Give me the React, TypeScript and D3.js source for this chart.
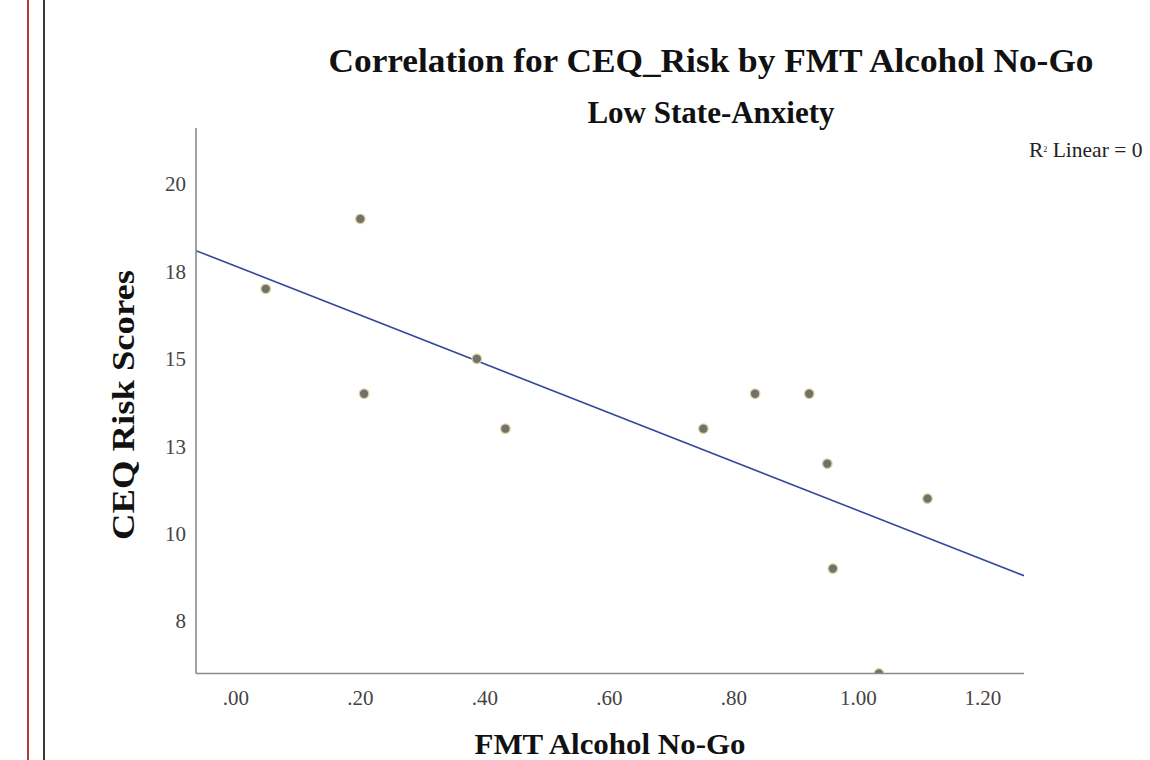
import React from "react";
import * as d3 from "d3";

// FMT Alcohol No-Go (x) and CEQ Risk Scores (y), low state-anxiety group
const fmtNoGo = [0.048, 0.2, 0.206, 0.387, 0.433, 0.751, 0.834, 0.921, 0.95, 0.959, 1.111, 1.033];
const ceqRisk = [17, 19, 14, 15, 13, 13, 14, 14, 12, 9, 11, 6];

const xTickValues = [0, 0.2, 0.4, 0.6, 0.8, 1.0, 1.2];
const xTickLabels = [".00", ".20", ".40", ".60", ".80", "1.00", "1.20"];
const yTickValues = [7.5, 10, 12.5, 15, 17.5, 20];
const yTickLabels = ["8", "10", "13", "15", "18", "20"];

const W = 1150;
const H = 760;
const plot = { left: 196, right: 1024, top: 128, bottom: 673.5 };
const serif = "'Liberation Serif', 'Times New Roman', serif";

export default function App() {
  const x = d3.scaleLinear().domain([-0.064, 1.266]).range([plot.left, plot.right]);
  const y = d3.scaleLinear().domain([6, 21.6]).range([plot.bottom, plot.top]);

  // least-squares fit line
  const mx = d3.mean(fmtNoGo) as number;
  const my = d3.mean(ceqRisk) as number;
  let sxy = 0;
  let sxx = 0;
  fmtNoGo.forEach((v, i) => {
    sxy += (v - mx) * (ceqRisk[i] - my);
    sxx += (v - mx) * (v - mx);
  });
  const slope = sxy / sxx;
  const intercept = my - slope * mx;
  const [x0, x1] = x.domain();
  const fitLine = d3.line<number>()
    .x((d) => x(d))
    .y((d) => y(intercept + slope * d))([x0, x1]) as string;

  return (
    <svg
      width={W}
      height={H}
      viewBox={`0 0 ${W} ${H}`}
      style={{ position: "absolute", left: 0, top: 0, background: "#fff" }}
      fontFamily={serif}
    >
      <defs>
        <clipPath id="plotClip">
          <rect x={plot.left} y={plot.top} width={plot.right - plot.left} height={plot.bottom - plot.top} />
        </clipPath>
      </defs>

      {/* page margin rules */}
      <line x1={28} x2={28} y1={0} y2={H} stroke="#b23a3a" strokeWidth={2} />
      <line x1={44} x2={44} y1={0} y2={H} stroke="#3a3a3a" strokeWidth={2} />

      {/* titles */}
      <text x={711} y={72} textAnchor="middle" fontSize={33} fontWeight="bold" fill="#111"
        textLength={765} lengthAdjust="spacingAndGlyphs">
        Correlation for CEQ_Risk by FMT Alcohol No-Go
      </text>
      <text x={711} y={123} textAnchor="middle" fontSize={31} fontWeight="bold" fill="#111">
        Low State-Anxiety
      </text>

      {/* fit line and points */}
      <g clipPath="url(#plotClip)">
        <path d={fitLine} fill="none" stroke="#34489c" strokeWidth={1.6} />
        {fmtNoGo.map((v, i) => (
          <circle key={i} cx={x(v)} cy={y(ceqRisk[i])} r={4.8} fill="#707070" stroke="#ddd59a" strokeWidth={1.3} />
        ))}
      </g>

      {/* axes */}
      <line x1={plot.left} x2={plot.left} y1={plot.top} y2={plot.bottom} stroke="#8a8a8a" strokeWidth={1.6} />
      <line x1={plot.left} x2={plot.right} y1={plot.bottom} y2={plot.bottom} stroke="#8a8a8a" strokeWidth={1.6} />

      {xTickValues.map((v, i) => (
        <text key={`xt${i}`} x={x(v)} y={705} textAnchor="middle" fontSize={21} fill="#444">
          {xTickLabels[i]}
        </text>
      ))}
      {yTickValues.map((v, i) => (
        <text key={`yt${i}`} x={186} y={y(v)} dy="0.35em" textAnchor="end" fontSize={21} fill="#444">
          {yTickLabels[i]}
        </text>
      ))}

      {/* axis titles */}
      <text x={610} y={754} textAnchor="middle" fontSize={30} fontWeight="bold" fill="#111"
        textLength={271} lengthAdjust="spacingAndGlyphs">
        FMT Alcohol No-Go
      </text>
      <text transform="translate(134,405) rotate(-90)" textAnchor="middle" fontSize={32} fontWeight="bold" fill="#111"
        textLength={270} lengthAdjust="spacingAndGlyphs">
        CEQ Risk Scores
      </text>

      {/* fit annotation */}
      <text x={1029} y={157} fontSize={21.5} fill="#222">
        R<tspan fontSize={8} dy={-5}>2</tspan>
        <tspan dy={5}> Linear = 0</tspan>
      </text>
    </svg>
  );
}
